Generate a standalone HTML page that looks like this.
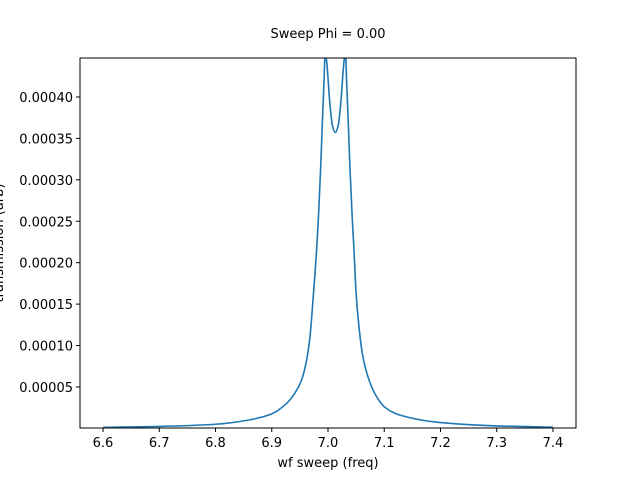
<!DOCTYPE html>
<html><head><meta charset="utf-8"><style>
body{margin:0;background:#fff;}
svg{display:block;font-family:"DejaVu Sans","Liberation Sans",sans-serif;}
</style></head><body>
<svg id="chart" width="640" height="480">
<defs><clipPath id="clip"><rect x="80" y="58" width="496" height="370"/></clipPath></defs>
<rect x="0" y="0" width="640" height="480" fill="#fff"/>
<text x="328" y="38" font-size="13" text-anchor="middle">Sweep Phi = 0.00</text>
<g id="xticks"></g>
<g id="yticks"></g>
<path id="line" fill="none" stroke="#1f77b4" stroke-width="1.6" stroke-linejoin="round" clip-path="url(#clip)"/>
<rect x="80" y="58" width="496" height="370" fill="none" stroke="#000" stroke-width="1"/>
<text x="328" y="467" font-size="13" text-anchor="middle">wf sweep (freq)</text>
<text transform="translate(3,243) rotate(-90)" font-size="13" text-anchor="middle">transmission (arb)</text>
</svg>
<script>
const freq = [6.6,6.7,6.8,6.858,6.9,6.926,6.941,6.953,6.962,6.968,6.972,6.976,6.980,6.983,6.987,6.990,6.993,6.995,6.998,7.003,7.008,7.013,7.018,7.023,7.028,7.031,7.033,7.036,7.039,7.043,7.046,7.050,7.055,7.062,7.071,7.083,7.1,7.128,7.2,7.3,7.4];
const trans = [0.0000012,0.0000024,0.0000050,0.000010,0.0000175,0.0000300,0.0000424,0.0000584,0.0000825,0.000111,0.000143,0.000179,0.000218,0.000255,0.000315,0.00037,0.00042,0.000455,0.00044,0.000395,0.000365,0.000357,0.000365,0.000395,0.00044,0.000455,0.00042,0.00037,0.000315,0.000255,0.000218,0.000163,0.000123,0.0000866,0.0000624,0.0000424,0.0000262,0.0000160,0.0000070,0.0000030,0.0000015];
const xTickVals = [6.6,6.7,6.8,6.9,7.0,7.1,7.2,7.3,7.4];
const yTickVals = [0.00005,0.00010,0.00015,0.00020,0.00025,0.00030,0.00035,0.00040];
const xs = v => 103 + (v - 6.6) / 0.8 * 450;
const ys = v => 428.4 - v / 0.00005 * 41.43;
const NS = "http://www.w3.org/2000/svg";
const xg = document.getElementById('xticks'), yg = document.getElementById('yticks');
xTickVals.forEach(v => {
  const l = document.createElementNS(NS,'line');
  l.setAttribute('x1',xs(v));l.setAttribute('x2',xs(v));l.setAttribute('y1',428);l.setAttribute('y2',432);l.setAttribute('stroke','#000');
  
  
  xg.appendChild(l);
  const t = document.createElementNS(NS,'text');
  t.setAttribute('x',xs(v));t.setAttribute('y',447);t.setAttribute('font-size','13');t.setAttribute('text-anchor','middle');
  t.textContent = v.toFixed(1);
  
  
  xg.appendChild(t);
});
yTickVals.forEach(v => {
  const l = document.createElementNS(NS,'line');
  l.setAttribute('x1',76);l.setAttribute('x2',80);l.setAttribute('y1',ys(v));l.setAttribute('y2',ys(v));l.setAttribute('stroke','#000');
  
  
  yg.appendChild(l);
  const t = document.createElementNS(NS,'text');
  t.setAttribute('x',73);t.setAttribute('y',ys(v)+5);t.setAttribute('font-size','13');t.setAttribute('text-anchor','end');
  t.textContent = v.toFixed(5);
  
  
  yg.appendChild(t);
});
// monotone cubic (Fritsch-Carlson) in pixel space
const px = freq.map(xs), py = trans.map(ys);
const n = px.length, dl = [], h = [], m = [];
for (let i=0;i<n-1;i++){ h[i]=px[i+1]-px[i]; dl[i]=(py[i+1]-py[i])/h[i]; }
m[0]=dl[0]; m[n-1]=dl[n-2];
for (let i=1;i<n-1;i++){
  if (dl[i-1]*dl[i] <= 0) m[i]=0;
  else { const w1=2*h[i]+h[i-1], w2=h[i]+2*h[i-1]; m[i]=(w1+w2)/(w1/dl[i-1]+w2/dl[i]); }
}
let d = 'M'+px[0]+','+py[0];
for (let i=0;i<n-1;i++){
  d+=' C'+(px[i]+h[i]/3)+','+(py[i]+m[i]*h[i]/3)+' '+(px[i+1]-h[i]/3)+','+(py[i+1]-m[i+1]*h[i]/3)+' '+px[i+1]+','+py[i+1];
}
document.getElementById('line').setAttribute('d', d);
</script>
</body></html>
